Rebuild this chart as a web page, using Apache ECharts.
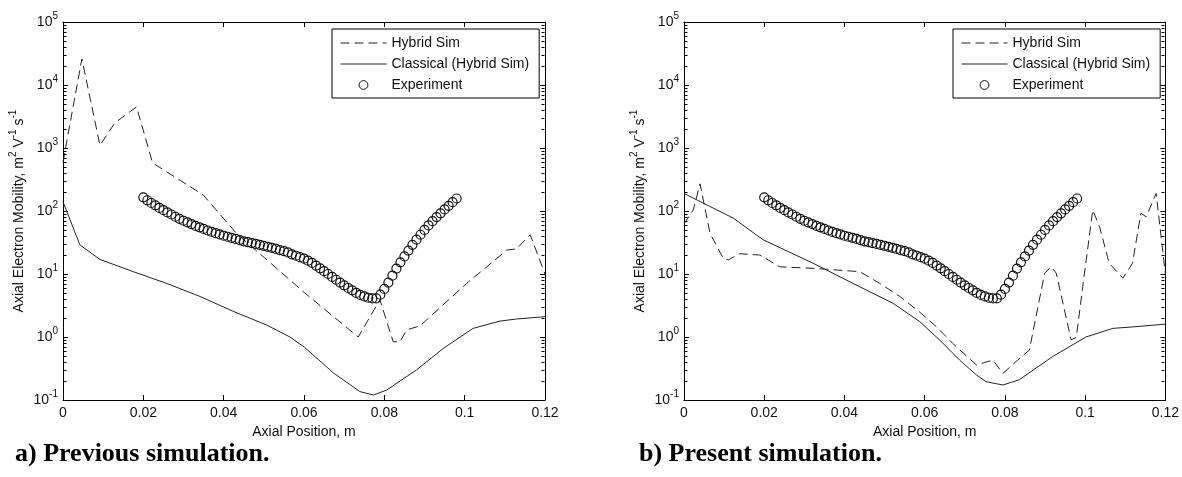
<!DOCTYPE html>
<html><head><meta charset="utf-8">
<script src="https://cdn.jsdelivr.net/npm/echarts@6/dist/echarts.min.js"></script>
<style>html,body{margin:0;padding:0;background:#fff}#c{width:1182px;height:477px}</style>
</head><body><div id="c"></div>
<script>
// ---------- data ----------
const legendNames = ['Hybrid Sim', 'Classical (Hybrid Sim)', 'Experiment'];
const xTickLabels = ['0', '0.02', '0.04', '0.06', '0.08', '0.1', '0.12'];
const captions = ['a) Previous simulation.', 'b) Present simulation.'];

// (a) previous simulation
const prevHybridX = [0, 0.0047, 0.0092, 0.0129, 0.0183, 0.0223, 0.0349, 0.0432, 0.0490, 0.0602, 0.0735, 0.0789, 0.0822, 0.0839, 0.0856, 0.0889, 0.1005, 0.1055, 0.1105, 0.1129, 0.1163, 0.1200];
const prevHybridY = [600, 26000, 1100, 2500, 4500, 580, 180, 44, 21, 5.0, 1.0, 3.9, 0.84, 0.84, 1.3, 1.5, 7.1, 13, 24, 25, 42, 10];
const prevClassX = [0, 0.0042, 0.0092, 0.0175, 0.0258, 0.0341, 0.0424, 0.0507, 0.0565, 0.0602, 0.0673, 0.0739, 0.0773, 0.0806, 0.0880, 0.0947, 0.1021, 0.1088, 0.1129, 0.1200];
const prevClassY = [140, 29, 17, 10.9, 7.1, 4.4, 2.55, 1.55, 1.0, 0.68, 0.27, 0.136, 0.12, 0.144, 0.30, 0.66, 1.37, 1.79, 1.93, 2.1];

// (b) present simulation
const presHybridX = [0, 0.0023, 0.0040, 0.0065, 0.0098, 0.0110, 0.0139, 0.0189, 0.0239, 0.0322, 0.0438, 0.0488, 0.0538, 0.0587, 0.0629, 0.0670, 0.0729, 0.0770, 0.0795, 0.0828, 0.0861, 0.0899, 0.0915, 0.0928, 0.0965, 0.0978, 0.0994, 0.1019, 0.1036, 0.1060, 0.1094, 0.1118, 0.1139, 0.1152, 0.1177, 0.1200];
const presHybridY = [62, 104, 270, 44, 17.7, 16.7, 21, 20, 13, 12.3, 10.9, 7.1, 4.4, 2.5, 1.46, 0.79, 0.36, 0.43, 0.265, 0.41, 0.62, 10.3, 13, 10.3, 0.9, 0.99, 6.3, 104, 56, 14.8, 8.6, 14.8, 92, 81, 190, 10];
const presClassX = [0, 0.0123, 0.0197, 0.0322, 0.0421, 0.0521, 0.0588, 0.0637, 0.0687, 0.0729, 0.0753, 0.0795, 0.0836, 0.0919, 0.1002, 0.1069, 0.1127, 0.1200];
const presClassY = [190, 77, 35, 14.8, 7.1, 3.43, 1.75, 0.9, 0.43, 0.25, 0.195, 0.173, 0.21, 0.49, 1.0, 1.37, 1.46, 1.6];

// experiment (same in both panels)
const expX = [0.020,0.021,0.022,0.023,0.024,0.025,0.026,0.027,0.028,0.029,0.030,0.031,0.032,0.033,0.034,0.035,0.036,0.037,0.038,0.039,0.040,0.041,0.042,0.043,0.044,0.045,0.046,0.047,0.048,0.049,0.050,0.051,0.052,0.053,0.054,0.055,0.056,0.057,0.058,0.059,0.060,0.061,0.062,0.063,0.064,0.065,0.066,0.067,0.068,0.069,0.070,0.071,0.072,0.073,0.074,0.075,0.076,0.077,0.078,0.079,0.080,0.081,0.082,0.083,0.084,0.085,0.086,0.087,0.088,0.089,0.090,0.091,0.092,0.093,0.094,0.095,0.096,0.097,0.098];
const expY = [165,148,134,123,112,103,95,88,81,75,70,66,62,58,55,52,49,46.5,44.5,42.5,40.5,39,37.5,36,34.5,33,32,31,30,29,28,27,26,25,24,23,22,20.5,19.5,18.5,17.5,16.3,15,13.6,12.3,11.1,10,9,8.1,7.3,6.6,6,5.5,5,4.65,4.4,4.2,4.1,4.1,4.7,5.8,7.3,9.4,12.2,15.3,19,23.5,29,35,42,50,59,69,80,92,106,121,138,158];

// minor tick decades / mantissas (axis decoration)
const minorMantissas = [2, 3, 4, 5, 6, 7, 8, 9];
const minorDecades = [0.1, 1, 10, 100, 1000, 10000];

// ---------- chart ----------
const FONT = '"Liberation Sans", Arial, Helvetica, sans-serif';
const INK = '#111';
const pairs = (xs, ys) => xs.map((x, i) => [x, ys[i]]);
const minorVals = [];
minorDecades.forEach(d => minorMantissas.forEach(m => minorVals.push([0, +(m * d).toPrecision(3)])));

const supRich = {
  b: { fontFamily: FONT, fontSize: 14, lineHeight: 15, color: INK, verticalAlign: 'bottom' },
  s: { fontFamily: FONT, fontSize: 10, lineHeight: 10, color: INK, verticalAlign: 'bottom', padding: [0, 0, 8, 0] }
};

const grids = [
  { left: 63, top: 22, width: 482, height: 378 },
  { left: 684, top: 22, width: 482, height: 378 }
];

const xAxes = [], yAxes = [];
grids.forEach((g, gi) => {
  xAxes.push({
    type: 'value', gridIndex: gi, position: 'bottom', min: 0, max: 0.12, interval: 0.02,
    name: 'Axial Position, m', nameLocation: 'middle', nameGap: 23,
    nameTextStyle: { fontFamily: FONT, fontSize: 14, color: INK },
    axisLine: { show: true, onZero: false, lineStyle: { color: '#000', width: 1 } },
    axisTick: { show: true, inside: true, length: 5, lineStyle: { color: '#000' } },
    axisLabel: { show: true, margin: 6, fontFamily: FONT, fontSize: 14, color: INK,
      formatter: v => xTickLabels[Math.round(v / 0.02)] },
    splitLine: { show: false }
  });
  xAxes.push({
    type: 'value', gridIndex: gi, position: 'top', min: 0, max: 0.12, interval: 0.02,
    axisLine: { show: true, onZero: false, lineStyle: { color: '#000', width: 1 } },
    axisTick: { show: true, inside: true, length: 5, lineStyle: { color: '#000' } },
    axisLabel: { show: false }, splitLine: { show: false }
  });
  yAxes.push({
    type: 'log', logBase: 10, gridIndex: gi, position: 'left', min: 0.1, max: 100000,
    name: '{b|Axial Electron Mobility, m}{s|2}{b| V}{s|-1}{b| s}{s|-1}',
    nameLocation: 'middle', nameRotate: 90, nameGap: 37,
    nameTextStyle: { fontFamily: FONT, fontSize: 14, color: INK, rich: supRich },
    axisLine: { show: true, onZero: false, lineStyle: { color: '#000', width: 1 } },
    axisTick: { show: true, inside: true, length: 5, lineStyle: { color: '#000' } },
    axisLabel: { show: true, margin: 5, rich: supRich,
      formatter: v => '{b|10}{s|' + Math.round(Math.log10(v)) + '}' },
    splitLine: { show: false }
  });
  yAxes.push({
    type: 'log', logBase: 10, gridIndex: gi, position: 'right', min: 0.1, max: 100000,
    axisLine: { show: true, onZero: false, lineStyle: { color: '#000', width: 1 } },
    axisTick: { show: true, inside: true, length: 5, lineStyle: { color: '#000' } },
    axisLabel: { show: false }, splitLine: { show: false }
  });
});

const dashStyle = { color: '#222', width: 1, type: [9, 5] };
const solidStyle = { color: '#222', width: 1, type: 'solid' };

function panelSeries(gi, hx, hy, cx, cy) {
  const xi = gi * 2, yi = gi * 2;
  return [
    { type: 'line', name: legendNames[0], xAxisIndex: xi, yAxisIndex: yi, data: pairs(hx, hy),
      symbol: 'none', showSymbol: false, lineStyle: dashStyle, itemStyle: { color: '#222' }, z: 2 },
    { type: 'line', name: legendNames[1], xAxisIndex: xi, yAxisIndex: yi, data: pairs(cx, cy),
      symbol: 'none', showSymbol: false, lineStyle: solidStyle, itemStyle: { color: '#222' }, z: 2 },
    { type: 'line', name: legendNames[2], xAxisIndex: xi, yAxisIndex: yi, data: pairs(expX, expY),
      symbol: 'circle', symbolSize: 9, showSymbol: true, showAllSymbol: true,
      lineStyle: { opacity: 0, width: 0 },
      itemStyle: { color: 'rgba(0,0,0,0)', borderColor: '#111', borderWidth: 1.2 }, z: 3 },
    { type: 'custom', xAxisIndex: xi, yAxisIndex: yi + 1, data: minorVals, silent: true, z: 4,
      encode: { x: 0, y: 1 },
      renderItem: (params, api) => {
        const cs = params.coordSys;
        const y = Math.round(api.coord([0, api.value(1)])[1]) + 0.5;
        const l = Math.round(cs.x) + 0.5, r = Math.round(cs.x + cs.width) - 0.5;
        return { type: 'group', children: [
          { type: 'line', shape: { x1: l, y1: y, x2: l + 3, y2: y }, style: { stroke: '#000', lineWidth: 1 } },
          { type: 'line', shape: { x1: r, y1: y, x2: r - 3, y2: y }, style: { stroke: '#000', lineWidth: 1 } }
        ] };
      } }
  ];
}

const legendData = [
  { name: legendNames[0], itemStyle: { opacity: 0, color: 'rgba(0,0,0,0)', borderWidth: 0 } },
  { name: legendNames[1], itemStyle: { opacity: 0, color: 'rgba(0,0,0,0)', borderWidth: 0 } },
  { name: legendNames[2], itemStyle: { color: 'rgba(0,0,0,0)', borderColor: '#111', borderWidth: 1 } }
];

const legendBase = {
  orient: 'vertical', top: 29, itemWidth: 46, itemHeight: 11, itemGap: 7,
  padding: [7, 10, 6, 8], borderColor: '#000', borderWidth: 1, backgroundColor: '#fff',
  selectedMode: false, data: legendData,
  lineStyle: { width: 1 },
  textStyle: { fontFamily: FONT, fontSize: 14, lineHeight: 14, color: INK }
};

const option = {
  animation: false,
  backgroundColor: '#fff',
  grid: grids,
  xAxis: xAxes,
  yAxis: yAxes,
  legend: [
    Object.assign({}, legendBase, { left: 332 }),
    Object.assign({}, legendBase, { left: 953 })
  ],
  series: [].concat(
    panelSeries(0, prevHybridX, prevHybridY, prevClassX, prevClassY),
    panelSeries(1, presHybridX, presHybridY, presClassX, presClassY)
  ),
  graphic: [
    { type: 'text', x: 15, y: 454, style: { text: captions[0], font: 'bold 26px "Liberation Serif", "Times New Roman", serif', fill: '#000', verticalAlign: 'middle' } },
    { type: 'text', x: 639, y: 454, style: { text: captions[1], font: 'bold 26px "Liberation Serif", "Times New Roman", serif', fill: '#000', verticalAlign: 'middle' } }
  ]
};

const chart = echarts.init(document.getElementById('c'), null, { renderer: 'canvas' });
chart.setOption(option);
</script>
</body></html>
